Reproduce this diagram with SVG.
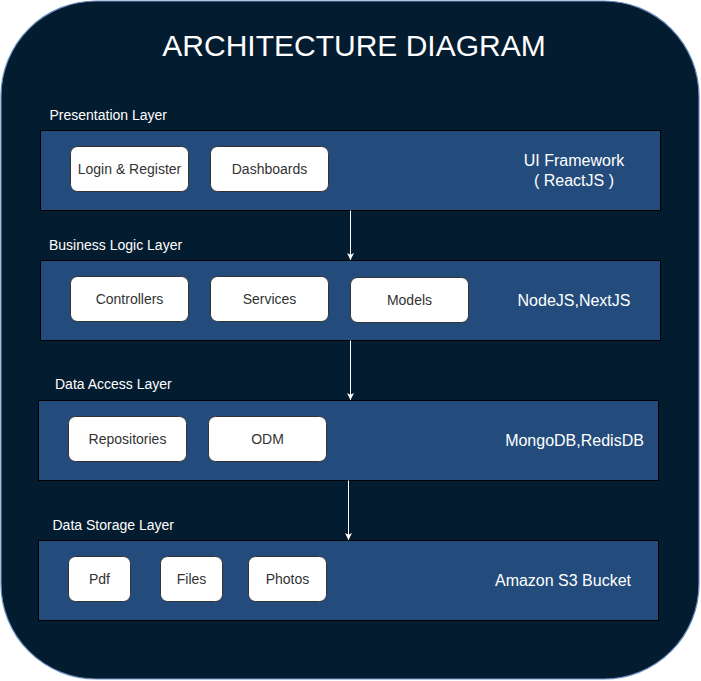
<svg xmlns="http://www.w3.org/2000/svg" width="701" height="681" viewBox="0 0 701 681">
<style>
text{font-family:"Liberation Sans",Arial,sans-serif}
.layer{fill:#234c7c;stroke:#000;stroke-width:1}
.node{fill:#fff;stroke:#333;stroke-width:1}
.ntext{font-size:14px;fill:#333;text-anchor:middle}
.ltext{font-size:14px;fill:#fff}
.rtext{font-size:16px;fill:#fff;text-anchor:middle}
.conn{stroke:#fff;stroke-width:1;fill:none}
</style>
<defs>
<marker id="arr" markerWidth="8" markerHeight="8" refX="7" refY="4" orient="auto" markerUnits="userSpaceOnUse">
<path d="M0,0.5 L7,4 L0,7.5 L1.8,4 Z" fill="#fff"/>
</marker>
</defs>
<rect id="frame" x="1" y="1" width="698" height="678" rx="95" ry="95" fill="#041c2f" stroke="#6c8ebf" stroke-width="1.2"/>
<text x="354" y="56" font-size="30" fill="#fff" text-anchor="middle" style="font-size:30px">ARCHITECTURE DIAGRAM</text>

<g id="presentation-layer">
<text class="ltext" x="49.5" y="120">Presentation Layer</text>
<rect class="layer" x="40.5" y="130.5" width="620" height="80"/>
<text class="rtext" x="574" y="166">UI Framework</text>
<text class="rtext" x="574" y="186">( ReactJS )</text>
</g>
<g id="login-register"><rect class="node" x="70.5" y="146.5" width="118" height="45" rx="7"/><text class="ntext" x="129.5" y="174">Login &amp; Register</text></g>
<g id="dashboards"><rect class="node" x="210.5" y="146.5" width="118" height="45" rx="7"/><text class="ntext" x="269.5" y="174">Dashboards</text></g>

<g id="business-layer">
<text class="ltext" x="49" y="249.5">Business Logic Layer</text>
<rect class="layer" x="40.5" y="260.5" width="620" height="80"/>
<text class="rtext" x="574" y="305.5">NodeJS,NextJS</text>
</g>
<g id="controllers"><rect class="node" x="70.5" y="276.5" width="118" height="45" rx="7"/><text class="ntext" x="129.5" y="304">Controllers</text></g>
<g id="services"><rect class="node" x="210.5" y="276.5" width="118" height="45" rx="7"/><text class="ntext" x="269.5" y="304">Services</text></g>
<g id="models"><rect class="node" x="350.5" y="277.5" width="118" height="45" rx="7"/><text class="ntext" x="409.5" y="305">Models</text></g>

<g id="data-access-layer">
<text class="ltext" x="55" y="389">Data Access Layer</text>
<rect class="layer" x="38.5" y="400.5" width="620" height="80"/>
<text class="rtext" x="574.5" y="446">MongoDB,RedisDB</text>
</g>
<g id="repositories"><rect class="node" x="68.5" y="416.5" width="118" height="45" rx="7"/><text class="ntext" x="127.5" y="444">Repositories</text></g>
<g id="odm"><rect class="node" x="208.5" y="416.5" width="118" height="45" rx="7"/><text class="ntext" x="267.5" y="444">ODM</text></g>

<g id="data-storage-layer">
<text class="ltext" x="52.5" y="529.5">Data Storage Layer</text>
<rect class="layer" x="38.5" y="540.5" width="620" height="80"/>
<text class="rtext" x="563" y="585.5">Amazon S3 Bucket</text>
</g>
<g id="pdf"><rect class="node" x="68.5" y="556.5" width="62" height="45" rx="7"/><text class="ntext" x="99.5" y="584">Pdf</text></g>
<g id="files"><rect class="node" x="160.5" y="556.5" width="62" height="45" rx="7"/><text class="ntext" x="191.5" y="584">Files</text></g>
<g id="photos"><rect class="node" x="248.5" y="556.5" width="78" height="45" rx="7"/><text class="ntext" x="287.5" y="584">Photos</text></g>

<g id="connectors">
<line class="conn" x1="350.5" y1="210.5" x2="350.5" y2="260" marker-end="url(#arr)"/>
<line class="conn" x1="350.5" y1="340.5" x2="350.5" y2="400" marker-end="url(#arr)"/>
<line class="conn" x1="348.5" y1="480.5" x2="348.5" y2="540" marker-end="url(#arr)"/>
</g>
</svg>
